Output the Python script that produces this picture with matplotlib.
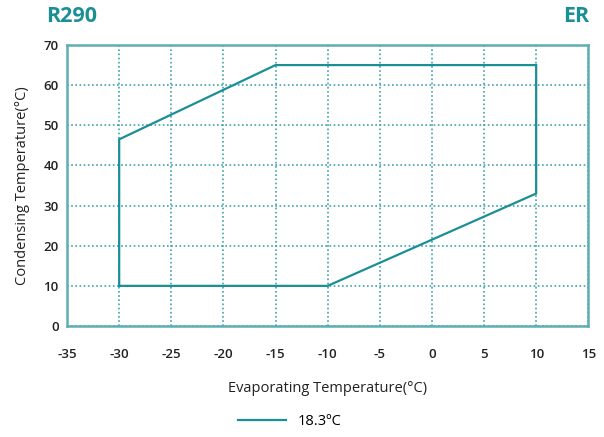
import matplotlib
matplotlib.use("Agg")
import matplotlib.pyplot as plt
from matplotlib.lines import Line2D

plt.rcParams['font.family'] = ['Open Sans', 'DejaVu Sans']

# Operating envelope for R290 (evaporating vs condensing temperature)
evap_temp = [-30, -30, -15, 10, 10, -10, -30]
cond_temp = [10, 46.5, 65, 65, 33, 10, 10]

x_ticks = [-35, -30, -25, -20, -15, -10, -5, 0, 5, 10, 15]
y_ticks = [0, 10, 20, 30, 40, 50, 60, 70]
series_label = "18.3ºC"

line_color = "#1b8f96"
axis_color = "#5eaeb3"
grid_color = "#3fa3aa"
text_color = "#222222"

fig = plt.figure(figsize=(6.04, 4.37), dpi=100)
ax = fig.add_axes([0.111, 0.254, 0.863, 0.643])

ax.plot(evap_temp, cond_temp, color=line_color, linewidth=1.6, solid_joinstyle='miter')

ax.set_xlim(-35, 15)
ax.set_ylim(0, 70)
ax.set_xticks(x_ticks)
ax.set_yticks(y_ticks)
ax.set_xticklabels([str(t) for t in x_ticks])
ax.set_yticklabels([str(t) for t in y_ticks])

ax.grid(True, linestyle=(0, (1, 1.5)), color=grid_color, linewidth=1.2)
ax.set_axisbelow(True)
for s in ax.spines.values():
    s.set_color(axis_color)
    s.set_linewidth(1.8)

ax.tick_params(axis='both', length=0, labelsize=9.5, colors=text_color)
for lbl in ax.get_xticklabels() + ax.get_yticklabels():
    lbl.set_fontweight('semibold')
ax.tick_params(axis='x', pad=16)
ax.tick_params(axis='y', pad=6)

ax.set_xlabel("Evaporating Temperature(°C)", fontsize=10.5, color=text_color, labelpad=14)
ax.set_ylabel("Condensing Temperature(°C)", fontsize=10.5, color=text_color, labelpad=10)

fig.text(0.076, 0.962, "R290", fontsize=15.5, fontweight='bold', color=line_color,
         ha='left', va='center')
fig.text(0.976, 0.962, "ER", fontsize=15.5, fontweight='bold', color=line_color,
         ha='right', va='center')

handle = Line2D([0], [0], color=line_color, linewidth=1.6)
fig.legend([handle], [series_label], loc='center', bbox_to_anchor=(0.48, 0.035),
           frameon=False, fontsize=10.5, handlelength=3.3, handletextpad=0.8)

fig.savefig("out.png", dpi=100)
